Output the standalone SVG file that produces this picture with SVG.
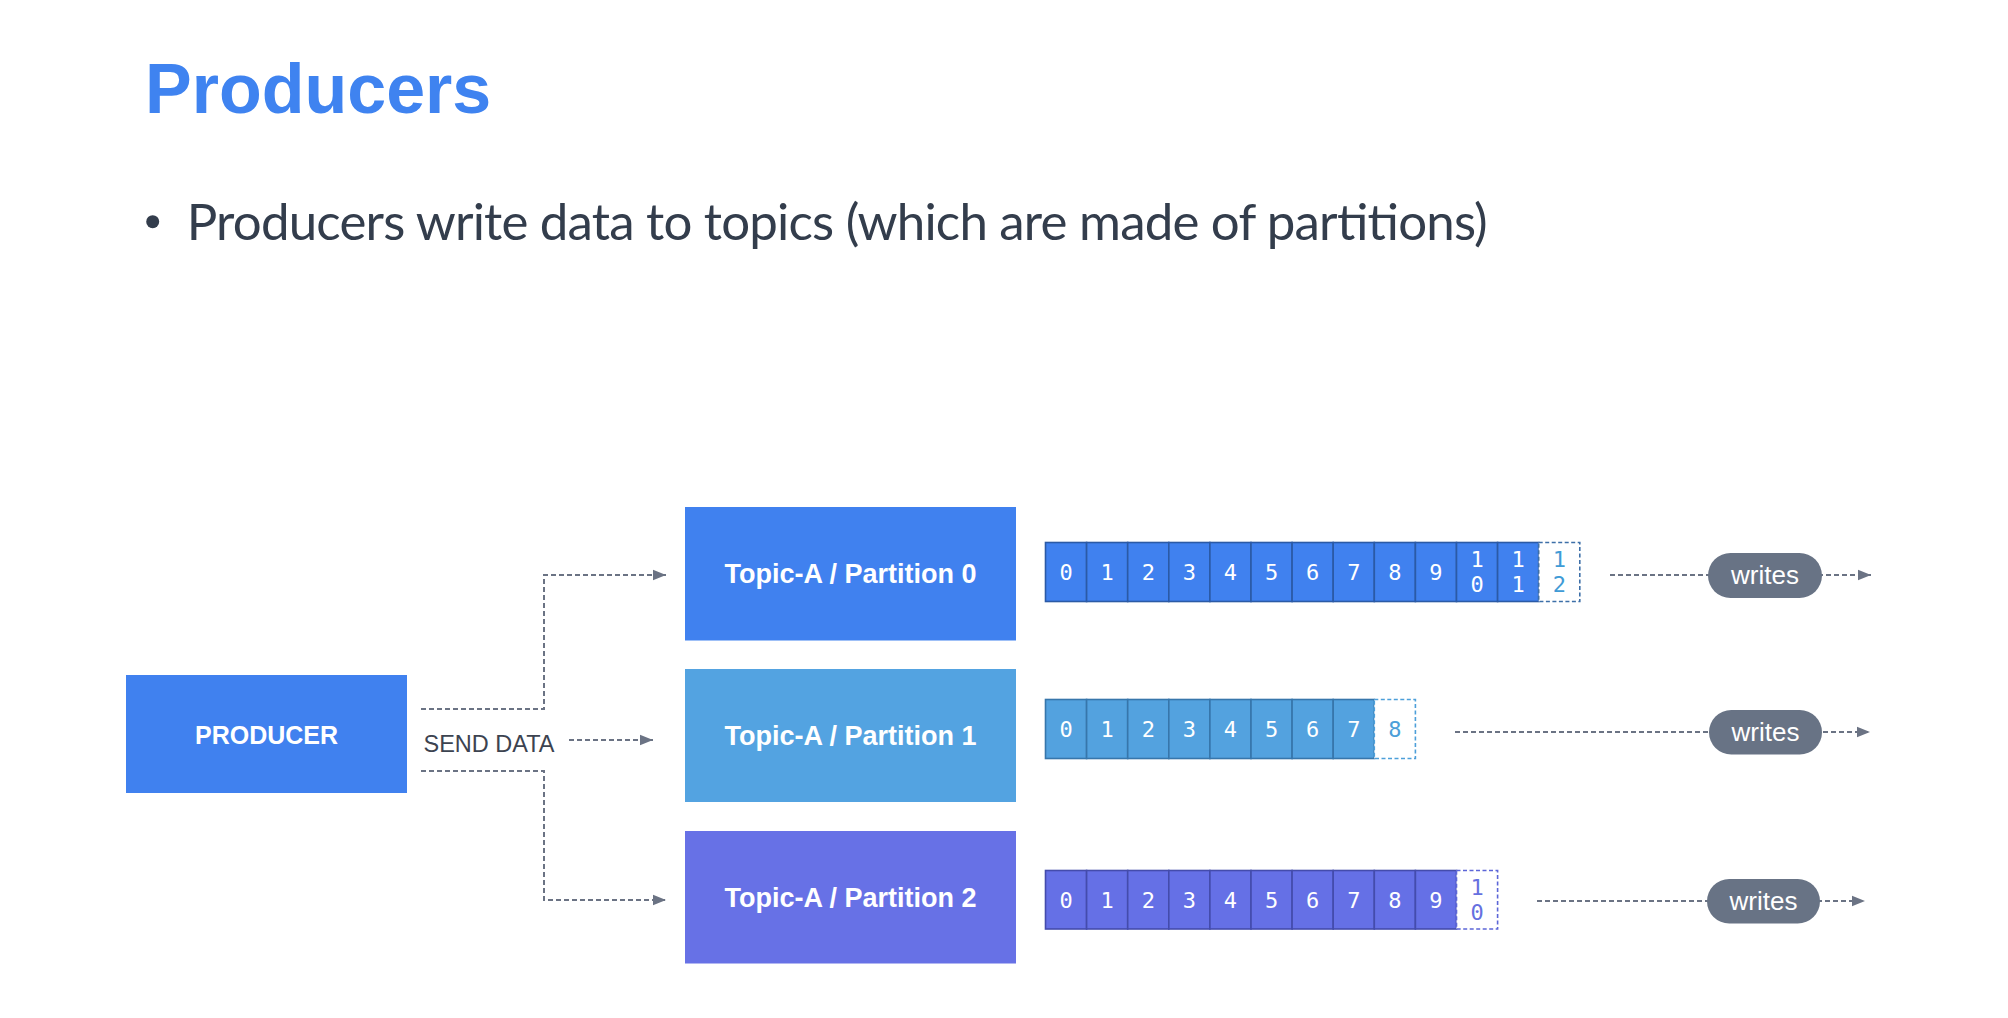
<svg xmlns="http://www.w3.org/2000/svg" width="2008" height="1018" viewBox="0 0 2008 1018">
<defs>
<marker id="arr" markerUnits="userSpaceOnUse" markerWidth="14" markerHeight="12" refX="13.5" refY="6" orient="auto">
<path d="M0,0.5 L13.5,6 L0,11.5 z" fill="#6b7384"/>
</marker>
<style>
.title{font-family:"Liberation Sans",Arial,sans-serif;font-weight:bold;font-size:70px;fill:#3f83f0}
.bullet{font-family:Lato,"Noto Sans",sans-serif;font-size:51px;fill:#333d4c}
.node-t{font-family:"Liberation Sans",Arial,sans-serif;font-weight:bold;fill:#ffffff;text-anchor:middle}
.conn{fill:none;stroke:#6b7384;stroke-width:2;stroke-dasharray:5 3}
.lbl{font-family:"Liberation Sans",Arial,sans-serif;font-size:23.5px;fill:#3c4350}
.pill{fill:#687385}
.pill-t{font-family:"Liberation Sans",Arial,sans-serif;font-size:26px;fill:#ffffff;text-anchor:middle}
.d{font-family:"DejaVu Sans Mono","Liberation Mono",monospace;font-size:22px;text-anchor:middle;fill:#ffffff}
.c0{fill:#4081ef;stroke:#2b5aa6;stroke-width:1.6}
.c1{fill:#53a2df;stroke:#3776ab;stroke-width:1.6}
.c2{fill:#6570e6;stroke:#444cac;stroke-width:1.6}
.dash0{fill:#ffffff;stroke:#3d6fa8;stroke-width:1.6;stroke-dasharray:4 2.5}
.dash1{fill:#ffffff;stroke:#4d9fd9;stroke-width:1.6;stroke-dasharray:4 2.5}
.dash2{fill:#ffffff;stroke:#5c66d8;stroke-width:1.6;stroke-dasharray:4 2.5}
</style>
</defs>
<rect width="2008" height="1018" fill="#ffffff"/>

<text class="title" x="145" y="113">Producers</text>
<circle cx="152.7" cy="221.7" r="6.5" fill="#333d4c"/>
<text class="bullet" x="186.7" y="240" textLength="1301">Producers write data to topics (which are made of partitions)</text>

<g id="connectors">
<path class="conn" d="M421,709 H544 V575 H666" marker-end="url(#arr)"/>
<path class="conn" d="M569,740 H653" marker-end="url(#arr)"/>
<path class="conn" d="M421,771 H544 V900 H666" marker-end="url(#arr)"/>
<path class="conn" d="M1610,575 H1871" marker-end="url(#arr)"/>
<path class="conn" d="M1455,732 H1870" marker-end="url(#arr)"/>
<path class="conn" d="M1537,901 H1865" marker-end="url(#arr)"/>
<text class="lbl" x="423.5" y="751.7">SEND DATA</text>
</g>

<g id="producer">
<rect x="126" y="675" width="281" height="118" fill="#4081ef"/>
<text class="node-t" x="266.5" y="743.5" font-size="25">PRODUCER</text>
</g>

<g id="topic-a-p0">
<rect x="685" y="507" width="331" height="133.5" fill="#4081ef"/>
<text class="node-t" x="850.5" y="583" font-size="27">Topic-A / Partition 0</text>
</g>
<g id="topic-a-p1">
<rect x="685" y="669" width="331" height="133" fill="#53a3e1"/>
<text class="node-t" x="850.5" y="745" font-size="27">Topic-A / Partition 1</text>
</g>
<g id="topic-a-p2">
<rect x="685" y="831" width="331" height="132.5" fill="#6771e6"/>
<text class="node-t" x="850.5" y="906.5" font-size="27">Topic-A / Partition 2</text>
</g>

<g id="log-p0">
<rect class="c0" x="1045.5" y="542.5" width="41.1" height="59"/>
<rect class="c0" x="1086.6" y="542.5" width="41.1" height="59"/>
<rect class="c0" x="1127.7" y="542.5" width="41.1" height="59"/>
<rect class="c0" x="1168.8" y="542.5" width="41.1" height="59"/>
<rect class="c0" x="1209.9" y="542.5" width="41.1" height="59"/>
<rect class="c0" x="1251.0" y="542.5" width="41.1" height="59"/>
<rect class="c0" x="1292.1" y="542.5" width="41.1" height="59"/>
<rect class="c0" x="1333.2" y="542.5" width="41.1" height="59"/>
<rect class="c0" x="1374.3" y="542.5" width="41.1" height="59"/>
<rect class="c0" x="1415.4" y="542.5" width="41.1" height="59"/>
<rect class="c0" x="1456.5" y="542.5" width="41.1" height="59"/>
<rect class="c0" x="1497.6" y="542.5" width="41.1" height="59"/>
<rect class="dash0" x="1538.7" y="542.5" width="41.1" height="59"/>
<text class="d" x="1066.05" y="580">0</text>
<text class="d" x="1107.15" y="580">1</text>
<text class="d" x="1148.25" y="580">2</text>
<text class="d" x="1189.35" y="580">3</text>
<text class="d" x="1230.45" y="580">4</text>
<text class="d" x="1271.55" y="580">5</text>
<text class="d" x="1312.65" y="580">6</text>
<text class="d" x="1353.75" y="580">7</text>
<text class="d" x="1394.85" y="580">8</text>
<text class="d" x="1435.95" y="580">9</text>
<text class="d" x="1477.05" y="567">1</text>
<text class="d" x="1477.05" y="592">0</text>
<text class="d" x="1518.15" y="567">1</text>
<text class="d" x="1518.15" y="592">1</text>
<text class="d" x="1559.25" y="567" style="fill:#3f9bd6">1</text>
<text class="d" x="1559.25" y="592" style="fill:#3f9bd6">2</text>
</g>

<g id="log-p1">
<rect class="c1" x="1045.5" y="699.5" width="41.1" height="59"/>
<rect class="c1" x="1086.6" y="699.5" width="41.1" height="59"/>
<rect class="c1" x="1127.7" y="699.5" width="41.1" height="59"/>
<rect class="c1" x="1168.8" y="699.5" width="41.1" height="59"/>
<rect class="c1" x="1209.9" y="699.5" width="41.1" height="59"/>
<rect class="c1" x="1251.0" y="699.5" width="41.1" height="59"/>
<rect class="c1" x="1292.1" y="699.5" width="41.1" height="59"/>
<rect class="c1" x="1333.2" y="699.5" width="41.1" height="59"/>
<rect class="dash1" x="1374.3" y="699.5" width="41.1" height="59"/>
<text class="d" x="1066.05" y="737">0</text>
<text class="d" x="1107.15" y="737">1</text>
<text class="d" x="1148.25" y="737">2</text>
<text class="d" x="1189.35" y="737">3</text>
<text class="d" x="1230.45" y="737">4</text>
<text class="d" x="1271.55" y="737">5</text>
<text class="d" x="1312.65" y="737">6</text>
<text class="d" x="1353.75" y="737">7</text>
<text class="d" x="1394.85" y="737" style="fill:#4d9fd9">8</text>
</g>

<g id="log-p2">
<rect class="c2" x="1045.5" y="870.5" width="41.1" height="58.5"/>
<rect class="c2" x="1086.6" y="870.5" width="41.1" height="58.5"/>
<rect class="c2" x="1127.7" y="870.5" width="41.1" height="58.5"/>
<rect class="c2" x="1168.8" y="870.5" width="41.1" height="58.5"/>
<rect class="c2" x="1209.9" y="870.5" width="41.1" height="58.5"/>
<rect class="c2" x="1251.0" y="870.5" width="41.1" height="58.5"/>
<rect class="c2" x="1292.1" y="870.5" width="41.1" height="58.5"/>
<rect class="c2" x="1333.2" y="870.5" width="41.1" height="58.5"/>
<rect class="c2" x="1374.3" y="870.5" width="41.1" height="58.5"/>
<rect class="c2" x="1415.4" y="870.5" width="41.1" height="58.5"/>
<rect class="dash2" x="1456.5" y="870.5" width="41.1" height="58.5"/>
<text class="d" x="1066.05" y="908">0</text>
<text class="d" x="1107.15" y="908">1</text>
<text class="d" x="1148.25" y="908">2</text>
<text class="d" x="1189.35" y="908">3</text>
<text class="d" x="1230.45" y="908">4</text>
<text class="d" x="1271.55" y="908">5</text>
<text class="d" x="1312.65" y="908">6</text>
<text class="d" x="1353.75" y="908">7</text>
<text class="d" x="1394.85" y="908">8</text>
<text class="d" x="1435.95" y="908">9</text>
<text class="d" x="1477.05" y="895" style="fill:#6670e0">1</text>
<text class="d" x="1477.05" y="920" style="fill:#6670e0">0</text>
</g>

<g id="writes-0">
<rect class="pill" x="1708" y="553" width="114" height="45" rx="22.5"/>
<text class="pill-t" x="1765" y="584">writes</text>
</g>
<g id="writes-1">
<rect class="pill" x="1709" y="710" width="113" height="44.5" rx="22.25"/>
<text class="pill-t" x="1765.5" y="741">writes</text>
</g>
<g id="writes-2">
<rect class="pill" x="1707" y="879" width="113" height="44.5" rx="22.25"/>
<text class="pill-t" x="1763.5" y="910">writes</text>
</g>
</svg>
